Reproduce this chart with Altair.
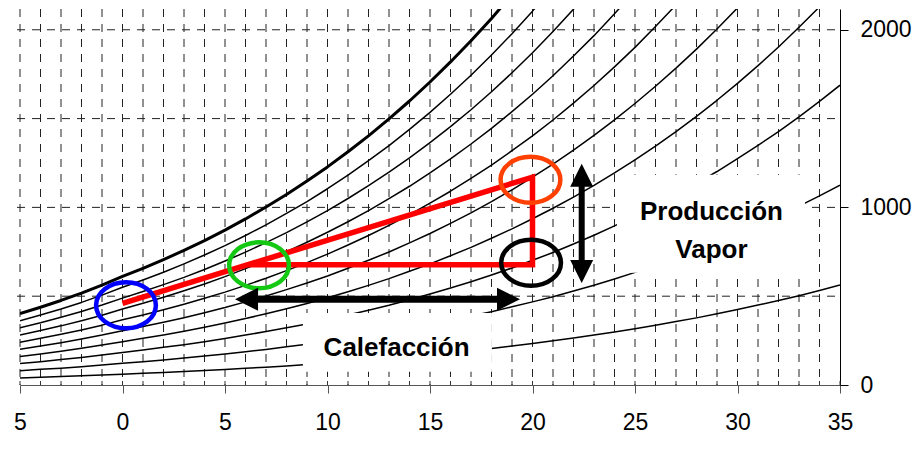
import altair as alt
import pandas as pd

# ---- data (vapour pressure, Pa) ----
T_START = -5  # first temperature of every curve list, 1 degC steps
rh100 = [402, 438, 476, 517, 562, 611, 657, 706, 758, 813, 872, 935, 1002, 1073, 1148, 1228,
         1313, 1403, 1498, 1599, 1706, 1819, 1938, 2064, 2198]
rh90 = [362, 394, 428, 465, 506, 550, 591, 635, 682, 732, 785, 842, 902, 966, 1033, 1105,
        1182, 1263, 1348, 1439, 1535, 1637, 1744, 1858, 1978, 2105, 2238]
rh80 = [322, 350, 381, 414, 450, 489, 526, 565, 606, 650, 698, 748, 802, 858, 918, 982,
        1050, 1122, 1198, 1279, 1365, 1455, 1550, 1651, 1758, 1871, 1990, 2116, 2248]
rh70 = [281, 307, 333, 362, 393, 428, 460, 494, 531, 569, 610, 655, 701, 751, 804, 860,
        919, 982, 1049, 1119, 1194, 1273, 1357, 1445, 1539, 1637, 1741, 1852, 1967, 2090, 2218]
rh60 = [241, 263, 286, 310, 337, 367, 394, 424, 455, 488, 523, 561, 601, 644, 689, 737,
        788, 842, 899, 959, 1024, 1091, 1163, 1238, 1319, 1403, 1492, 1587, 1686, 1791, 1901,
        2018, 2140]
rh50 = [201, 219, 238, 259, 281, 306, 329, 353, 379, 407, 436, 468, 501, 537, 574, 614,
        657, 702, 749, 800, 853, 910, 969, 1032, 1099, 1170, 1244, 1323, 1405, 1493, 1585,
        1682, 1784, 1891, 2004, 2123]
rh40 = [161, 175, 190, 207, 225, 244, 263, 282, 303, 325, 349, 374, 401, 429, 459, 491,
        525, 561, 599, 640, 682, 728, 775, 826, 879, 936, 995, 1058, 1124, 1194, 1268,
        1345, 1427, 1513, 1603, 1698, 1798, 1903, 2014, 2129]
rh30 = [121, 131, 143, 155, 169, 183, 197, 212, 227, 244, 262, 281, 301, 322, 344, 368,
        394, 421, 449, 480, 512, 546, 581, 619, 659, 702, 746, 794, 843, 896, 951,
        1009, 1070, 1135, 1202, 1274, 1349, 1427, 1510, 1597, 1688]
rh20 = [80, 88, 95, 103, 112, 122, 131, 141, 152, 163, 174, 187, 200, 215, 230, 246,
        263, 281, 300, 320, 341, 364, 388, 413, 440, 468, 497, 529, 562, 597, 634,
        673, 713, 756, 802, 849, 899, 952, 1007, 1065, 1125]
rh10 = [40, 44, 48, 52, 56, 61, 66, 71, 76, 81, 87, 94, 100, 107, 115, 123,
        131, 140, 150, 160, 171, 182, 194, 206, 220, 234, 249, 265, 281, 299, 317,
        336, 357, 378, 401, 425, 450, 476, 503, 532, 563]

x_ticks = [-5, 0, 5, 10, 15, 20, 25, 30, 35]
y_ticks = [0, 1000, 2000]
x_grid = list(range(-5, 35))
y_grid = [500, 1000, 1500, 2000]

# process path (red)
proc_t = [0, 20, 20, 6.1]
proc_p = [460, 1170, 677, 677]

# ellipses
circ_t = [0.17, 6.66, 19.9, 19.93]
circ_p = [449, 674, 1156, 688]
circ_c = ["#0000FF", "#14C814", "#FF4000", "#000000"]

# arrows (tips)
h_arrow_t = [5.49, 19.39]
h_arrow_p = 483
v_arrow_t = 22.4
v_arrow_p = [1246, 574]

# label boxes and labels
box_t1 = [24.12, 8.8]
box_t2 = [33.29, 18.02]
box_p1 = [632, 75]
box_p2 = [1184, 405]
lab_text = ["Producción", "Vapor", "Calefacción"]
lab_t = [28.73, 28.73, 13.37]
lab_p = [930, 717, 165]

# ---- build tables ----
curves = {100: rh100, 90: rh90, 80: rh80, 70: rh70, 60: rh60,
          50: rh50, 40: rh40, 30: rh30, 20: rh20, 10: rh10}
rows = []
for rh, vals in curves.items():
    for i, v in enumerate(vals):
        rows.append({"rh": rh, "t": T_START + i, "p": v, "w": 3.0 if rh == 100 else 1.5})
curves_df = pd.DataFrame(rows)

xs = alt.Scale(domain=[-5, 35], nice=False, zero=False)
ys = alt.Scale(domain=[0, 2117], nice=False, zero=False)
FONT = "Arial, Liberation Sans, sans-serif"

x_axis = alt.Axis(values=x_ticks, title=None, grid=False, domainColor="#555555",
                  tickColor="#555555", tickSize=8, labelFontSize=23, labelFont=FONT,
                  labelColor="black", labelPadding=18, labelFlush=False, labelOverlap=False,
                  labelExpr="datum.value == -5 ? '5' : datum.label")
y_axis = alt.Axis(values=y_ticks, orient="right", title=None, grid=False, domainColor="black",
                  tickColor="black", tickSize=8, labelFontSize=23, labelFont=FONT,
                  labelColor="black", labelPadding=12, labelFlush=False, labelOverlap=False,
                  format="d")


def X(field):
    return alt.X(field, scale=xs, axis=x_axis)


def Y(field):
    return alt.Y(field, scale=ys, axis=y_axis)


vgrid = alt.Chart(pd.DataFrame({"t": x_grid})).mark_rule(
    color="#222222", strokeWidth=1, strokeDash=[8, 7]).encode(
    x=X("t:Q"), y=alt.value(0), y2=alt.value(376))

hgrid = alt.Chart(pd.DataFrame({"p": y_grid})).mark_rule(
    color="#222222", strokeWidth=1, strokeDash=[8, 7]).encode(
    y=Y("p:Q"), x=alt.value(-3), x2=alt.value(820))

minor = alt.Chart(pd.DataFrame({"t": list(range(-5, 36))})).mark_rule(
    color="#333333", strokeWidth=1).encode(
    x=X("t:Q"), y=alt.value(372), y2=alt.value(376))

lines = alt.Chart(curves_df).mark_line(clip=True, color="black", strokeJoin="round").encode(
    x=X("t:Q"), y=Y("p:Q"),
    detail="rh:N",
    order="t:Q",
    strokeWidth=alt.StrokeWidth("w:Q", scale=None))

boxes = alt.Chart(pd.DataFrame({"t1": box_t1, "t2": box_t2, "p1": box_p1, "p2": box_p2})).mark_rect(
    color="white").encode(
    x=X("t1:Q"), x2="t2:Q", y=Y("p1:Q"), y2="p2:Q")

labels = alt.Chart(pd.DataFrame({"txt": lab_text, "t": lab_t, "p": lab_p})).mark_text(
    font=FONT, fontSize=26, fontWeight="bold", color="black", align="center",
    baseline="alphabetic").encode(
    x=X("t:Q"), y=Y("p:Q"), text="txt:N")

proc = alt.Chart(pd.DataFrame({"t": proc_t, "p": proc_p, "o": list(range(len(proc_t)))})).mark_line(
    color="#FF0000", strokeWidth=5.5, strokeJoin="miter", strokeCap="butt").encode(
    x=X("t:Q"), y=Y("p:Q"), order="o:Q")

ELLIPSE = "M -1.3 0 A 1.3 1 0 1 0 1.3 0 A 1.3 1 0 1 0 -1.3 0 Z"
rings = alt.Chart(pd.DataFrame({"t": circ_t, "p": circ_p, "c": circ_c})).mark_point(
    shape=ELLIPSE, size=2116, filled=False, strokeWidth=4.5, opacity=1).encode(
    x=X("t:Q"), y=Y("p:Q"),
    color=alt.Color("c:N", scale=None))

h_shaft = alt.Chart(pd.DataFrame({"t1": [h_arrow_t[0] + 0.8], "t2": [h_arrow_t[1] - 0.8],
                                  "p": [h_arrow_p]})).mark_rule(
    color="black", strokeWidth=7, strokeCap="butt").encode(
    x=X("t1:Q"), x2="t2:Q", y=Y("p:Q"))

v_shaft = alt.Chart(pd.DataFrame({"t": [v_arrow_t], "p1": [v_arrow_p[0] - 90],
                                  "p2": [v_arrow_p[1] + 90]})).mark_rule(
    color="black", strokeWidth=6, strokeCap="butt").encode(
    x=X("t:Q"), y=Y("p1:Q"), y2="p2:Q")

heads_df = pd.DataFrame({
    "t": [h_arrow_t[0], h_arrow_t[1], v_arrow_t, v_arrow_t],
    "p": [h_arrow_p, h_arrow_p, v_arrow_p[0], v_arrow_p[1]],
    "s": ["M 0 0 L 2 -1 L 2 1 Z", "M 0 0 L -2 -1 L -2 1 Z",
          "M 0 0 L -1 2 L 1 2 Z", "M 0 0 L -1 -2 L 1 -2 Z"],
})
heads = alt.Chart(heads_df).mark_point(filled=True, size=529, color="black", opacity=1,
                                       strokeWidth=0).encode(
    x=X("t:Q"), y=Y("p:Q"),
    shape=alt.Shape("s:N", scale=None))

chart = alt.layer(
    vgrid, hgrid, minor, lines, boxes, labels, proc, rings, h_shaft, v_shaft, heads
).properties(
    width=820, height=376,
    autosize=alt.AutoSizeParams(type="none"),
    padding={"left": 12, "top": 1, "right": 74, "bottom": 71},
).configure_view(stroke=None)

chart.save("out.html", embed_options={"renderer": "svg", "actions": False})
